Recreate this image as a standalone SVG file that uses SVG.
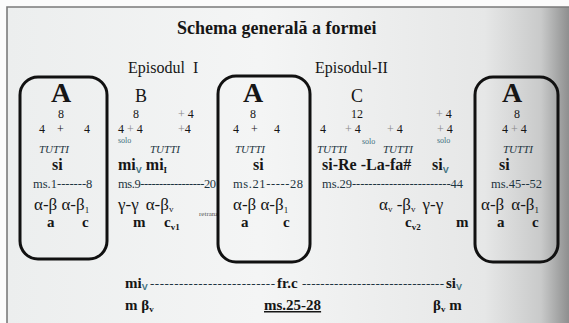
<svg xmlns="http://www.w3.org/2000/svg" width="569" height="323" viewBox="0 0 569 323">
<defs>
<linearGradient id="bg" x1="0" y1="0" x2="1" y2="0">
<stop offset="0" stop-color="#eceeee"/>
<stop offset="0.45" stop-color="#f4f5f5"/>
<stop offset="0.85" stop-color="#e6e7e7"/>
<stop offset="0.95" stop-color="#c9caca"/>
<stop offset="1" stop-color="#8e8f8f"/>
</linearGradient>
<style>
text{font-family:"Liberation Serif","Times New Roman",serif;fill:#161616}
.title{font-size:18px;font-weight:bold}
.ep{font-size:16px}
.big{font-size:28px;font-weight:bold;text-anchor:middle}
.sec{font-size:18px;text-anchor:middle}
.num{font-size:12px}
.solo{font-size:8px;fill:#3f7180}
.tutti{font-size:11px;font-style:italic;fill:#1d3440}
.key{font-size:16px;font-weight:bold}
.ms{font-size:12.5px;fill:#1d3440}
.greek{font-size:17px}
.let{font-size:15px;font-weight:bold}
.tiny{font-size:7px;fill:#555}
.box{fill:none;stroke:#111;stroke-width:3}
.sub{font-size:9px}
.subv{font-size:9px;fill:#3f7180;font-family:"Liberation Sans",Arial,sans-serif}
.dash{font-size:13px;fill:#1d3440}
</style>
</defs>
<rect x="0" y="0" width="569" height="323" fill="#fbfbfb"/>
<rect x="7" y="7" width="562" height="316" fill="url(#bg)"/>
<path d="M7,323 V7 H569" fill="none" stroke="#7a7a7a" stroke-width="1.6"/>

<text class="title" x="177" y="34">Schema generală a formei</text>
<text class="ep" x="128" y="73">Episodul<tspan dx="8">I</tspan></text>
<text class="ep" x="315" y="73">Episodul-II</text>

<g id="node-A1">
<rect class="box" x="20" y="77" width="87" height="182" rx="18"/>
<text class="big" x="61" y="102">A</text>
<text class="num" x="58" y="118">8</text>
<text class="num" x="39" y="133">4</text>
<text class="num" x="57" y="133" fill="#777">+</text>
<text class="num" x="84" y="133">4</text>
<text class="tutti" x="39" y="153">TUTTI</text>
<text class="key" x="52" y="170">si</text>
<text class="ms" x="33" y="188">ms.1-------8</text>
<text class="greek" x="34" y="210">α-β α-β<tspan class="sub" dy="3">1</tspan></text>
<text class="let" x="47" y="227">a</text>
<text class="let" x="82" y="227">c</text>
</g>

<g id="node-B">
<text class="sec" x="141" y="102">B</text>
<text class="num" x="133" y="118">8</text>
<text class="num" x="178" y="118"><tspan fill="#888">+</tspan> 4</text>
<text class="num" x="118" y="133">4 <tspan fill="#888">+</tspan> 4</text>
<text class="num" x="178" y="133"><tspan fill="#888">+</tspan>4</text>
<text class="solo" x="118" y="143">solo</text>
<text class="tutti" x="150" y="153">TUTTI</text>
<text class="key" x="118" y="170">mi<tspan class="subv" dy="3">V</tspan><tspan dy="-3" dx="4">mi</tspan><tspan class="sub" dy="3">I</tspan></text>
<text class="ms" x="118" y="188" textLength="98" lengthAdjust="spacing">ms.9-----------------20</text>
<text class="greek" x="118" y="210">γ-γ<tspan dx="7">α-β</tspan><tspan class="sub" dy="2">v</tspan></text>
<text class="let" x="133" y="227">m</text>
<text class="let" x="164" y="227">c<tspan class="sub" dy="3">v1</tspan></text>
<text class="tiny" x="199" y="216">retranz</text>
</g>

<g id="node-A2">
<rect class="box" x="218" y="76" width="92" height="186" rx="18"/>
<text class="big" x="253" y="102">A</text>
<text class="num" x="250" y="118">8</text>
<text class="num" x="233" y="133">4</text>
<text class="num" x="251" y="133" fill="#777">+</text>
<text class="num" x="274" y="133">4</text>
<text class="tutti" x="235" y="153">TUTTI</text>
<text class="key" x="253" y="170">si</text>
<text class="ms" x="233" y="188" textLength="70" lengthAdjust="spacing">ms.21-----28</text>
<text class="greek" x="233" y="210">α-β α-β<tspan class="sub" dy="3">1</tspan></text>
<text class="let" x="241" y="227">a</text>
<text class="let" x="283" y="227">c</text>
</g>

<g id="node-C">
<text class="sec" x="357" y="102">C</text>
<text class="num" x="351" y="118">12</text>
<text class="num" x="436" y="118"><tspan fill="#888">+</tspan> 4</text>
<text class="num" x="320" y="133">4</text>
<text class="num" x="345" y="133"><tspan fill="#888">+</tspan> 4</text>
<text class="num" x="387" y="133"><tspan fill="#888">+</tspan> 4</text>
<text class="num" x="437" y="133"><tspan fill="#888">+</tspan> 4</text>
<text class="solo" x="362" y="144">solo</text>
<text class="solo" x="437" y="143">solo</text>
<text class="tutti" x="317" y="153">TUTTI</text>
<text class="tutti" x="383" y="153">TUTTI</text>
<text class="key" x="322" y="170">si-Re -La-fa#</text>
<text class="key" x="432" y="170">si<tspan class="subv" dy="3">V</tspan></text>
<text class="ms" x="322" y="188" textLength="141" lengthAdjust="spacing">ms.29------------------------44</text>
<text class="greek" x="379" y="210">α<tspan class="sub" dy="2">v</tspan><tspan dy="-2"> -β</tspan><tspan class="sub" dy="2">v</tspan><tspan dy="-2" dx="7">γ-γ</tspan></text>
<text class="let" x="405" y="227">c<tspan class="sub" dy="3">v2</tspan></text>
<text class="let" x="456" y="227">m</text>
</g>

<g id="node-A3">
<rect class="box" x="475" y="77" width="83" height="185" rx="18"/>
<text class="big" x="512" y="102">A</text>
<text class="num" x="514" y="118">8</text>
<text class="num" x="502" y="133">4 <tspan fill="#888">+</tspan> 4</text>
<text class="tutti" x="503" y="153">TUTTI</text>
<text class="key" x="499" y="170">si</text>
<text class="ms" x="491" y="188">ms.45--52</text>
<text class="greek" x="481" y="210">α-β<tspan dx="7">α-β</tspan><tspan class="sub" dy="3">1</tspan></text>
<text class="let" x="497" y="227">a</text>
<text class="let" x="532" y="227">c</text>
</g>

<g id="connectors">
<text class="key" x="125" y="288" style="font-size:15px">mi<tspan class="subv" dy="2">V</tspan></text>
<text class="dash" x="150" y="288" textLength="125" lengthAdjust="spacing">--------------------------</text>
<text class="key" x="277" y="288" style="font-size:15px">fr.c</text>
<text class="dash" x="302" y="288" textLength="142" lengthAdjust="spacing">-------------------------------</text>
<text class="key" x="446" y="288" style="font-size:15px">si<tspan class="subv" dy="2">V</tspan></text>
<text class="let" x="125" y="310">m β<tspan class="sub" dy="2">v</tspan></text>
<text class="let" x="264" y="310" text-decoration="underline">ms.25-28</text>
<text class="let" x="433" y="310">β<tspan class="sub" dy="2">v</tspan><tspan dy="-2"> m</tspan></text>
</g>
</svg>
